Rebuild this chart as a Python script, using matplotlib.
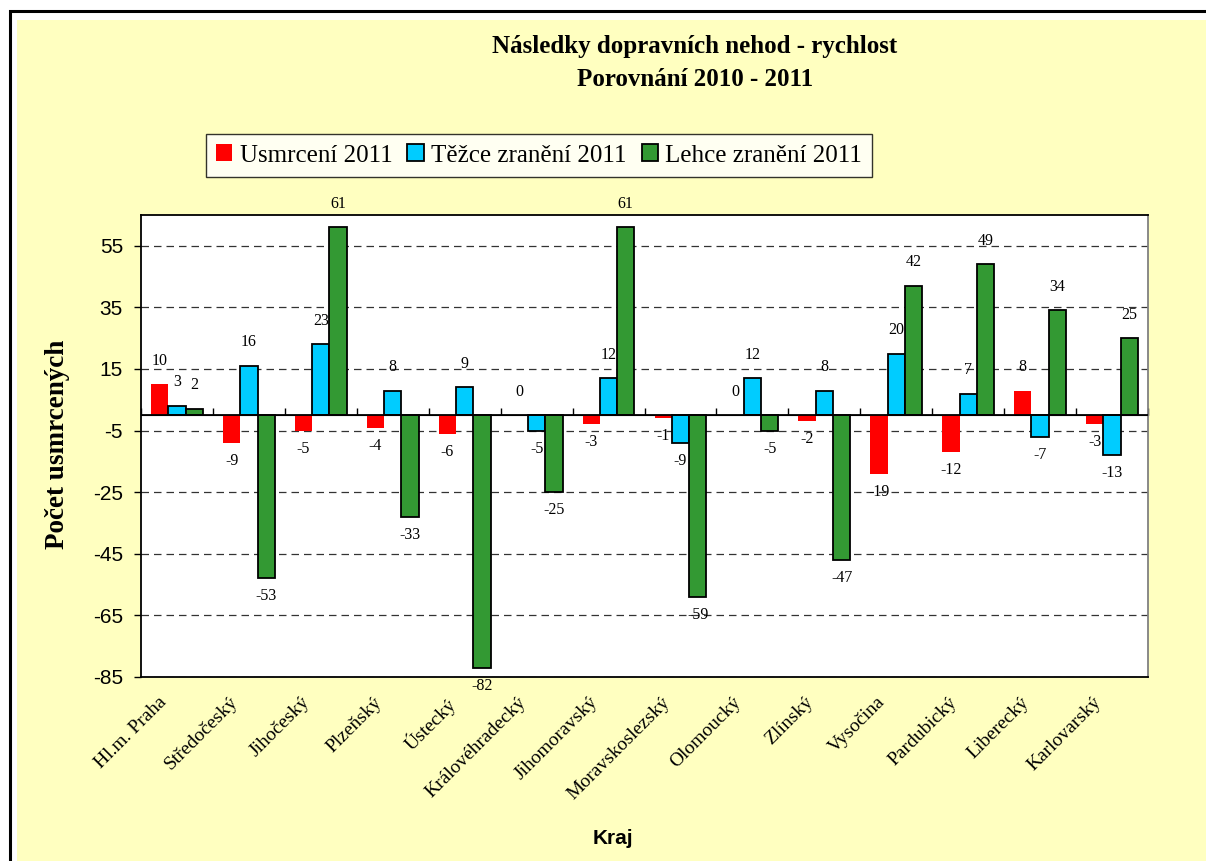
import numpy as np
import matplotlib
matplotlib.use("Agg")
import matplotlib.pyplot as plt
from matplotlib.patches import Rectangle
from matplotlib.transforms import ScaledTranslation

# ---- data ----
categories = ["Hl.m. Praha", "Středočeský", "Jihočeský", "Plzeňský", "Ústecký",
              "Královéhradecký", "Jihomoravský", "Moravskoslezský", "Olomoucký",
              "Zlínský", "Vysočina", "Pardubický", "Liberecký", "Karlovarský"]
usmrceni = [10, -9, -5, -4, -6, 0, -3, -1, 0, -2, -19, -12, 8, -3]
tezce = [3, 16, 23, 8, 9, -5, 12, -9, 12, 8, 20, 7, -7, -13]
lehce = [2, -53, 61, -33, -82, -25, 61, -59, -5, -47, 42, 49, 34, 25]
series_names = ["Usmrcení 2011", "Těžce zranění 2011", "Lehce zranění 2011"]
yticks = [-85, -65, -45, -25, -5, 15, 35, 55]

colors = ["#FF0000", "#00CCFF", "#339933"]
SERIF = "Liberation Serif"
SANS = "Liberation Sans"

W, H = 1206, 861
fig = plt.figure(figsize=(W / 100, H / 100), dpi=100, facecolor="white")

# frame and yellow background
fig.patches.append(Rectangle((9.5 / W, -0.1), 1.2, 1 - 11 / H + 0.1, transform=fig.transFigure,
                             facecolor="white", edgecolor="black", linewidth=2.2, zorder=-10))
fig.patches.append(Rectangle((17 / W, 0), 1, 1 - 20 / H, transform=fig.transFigure,
                             facecolor="#FFFFC0", edgecolor="none", zorder=-9))

ax = fig.add_axes([141 / W, (H - 677) / H, (1148 - 141) / W, (677 - 215) / H])
ax.set_facecolor("white")

x = np.arange(len(categories))
bw = 0.24
series = [usmrceni, tezce, lehce]
offsets = [-bw, 0, bw]
for vals, off, col, name in zip(series, offsets, colors, series_names):
    if col == "#FF0000":
        bars = ax.bar(x + off, vals, bw, color=col, edgecolor="none", label=name, zorder=3)
    else:
        bars = ax.bar(x + off, vals, bw, color=col, edgecolor="black", linewidth=1.3,
                      label=name, zorder=3)
    for b, v in zip(bars, vals):
        cx = b.get_x() + b.get_width() / 2
        if v >= 0:
            ax.annotate(str(v), (cx, v), xytext=(0, 17), textcoords="offset points",
                        ha="center", va="center", fontsize=11.5, family=SERIF, zorder=4)
        else:
            ax.annotate(str(v), (cx, v), xytext=(0, -13), textcoords="offset points",
                        ha="center", va="center", fontsize=11.5, family=SERIF, zorder=4)

ax.set_xlim(-0.5, len(categories) - 0.5)
ax.set_ylim(-85, 65)
ax.set_yticks(yticks)
ax.set_yticklabels([str(t) for t in yticks], family=SANS, fontsize=15)
ax.tick_params(axis="y", direction="out", length=5, width=1, pad=8)
ax.yaxis.grid(True, linestyle=(0, (6, 4)), color="#333333", linewidth=0.9, zorder=1)
ax.set_axisbelow(True)

ax.set_xticks(x)
ax.set_xticklabels(categories, rotation=45, ha="right", va="top", rotation_mode="anchor",
                   family=SERIF, fontsize=14)
ax.tick_params(axis="x", length=0, pad=12)
shift = ScaledTranslation(-14 / 72, 0, fig.dpi_scale_trans)
for lab in ax.get_xticklabels():
    lab.set_transform(lab.get_transform() + shift)

# zero line (category axis) with tick marks at boundaries
ax.axhline(0, color="black", linewidth=1.3, zorder=3.5)
sec = ax.secondary_xaxis(85 / 150)
sec.set_xticks(np.arange(len(categories) + 1) - 0.5)
sec.set_xticklabels([])
sec.tick_params(axis="x", direction="out", length=5, width=1, color="black")
sec.spines["bottom"].set_visible(False)

for s in ["left", "bottom", "top"]:
    ax.spines[s].set_color("black")
    ax.spines[s].set_linewidth(1.3)
ax.spines["right"].set_color("#808080")
ax.spines["right"].set_linewidth(1.3)

# titles and labels
fig.text(695 / W, 1 - 47 / H, "Následky dopravních nehod - rychlost", ha="center", va="center",
         family=SERIF, fontweight="bold", fontsize=18)
fig.text(695 / W, 1 - 79 / H, "Porovnání 2010 - 2011", ha="center", va="center",
         family=SERIF, fontweight="bold", fontsize=18)
fig.text(58 / W, 1 - 444 / H, "Počet usmrcených", rotation=90, ha="center", va="center",
         family=SERIF, fontweight="bold", fontsize=19.5)
fig.text(613 / W, 1 - 838 / H, "Kraj", ha="center", va="center",
         family=SANS, fontweight="bold", fontsize=15)

handles, labels = ax.get_legend_handles_labels()
leg = fig.legend(handles, labels, loc="center", bbox_to_anchor=(539 / W, 1 - 155.5 / H),
                 ncol=3, prop={"family": SERIF, "size": 18}, frameon=True, fancybox=False,
                 shadow=False, edgecolor="black", handlelength=0.65, handleheight=0.65,
                 handletextpad=0.3, columnspacing=0.6, borderpad=0.4)
leg.get_frame().set_linewidth(1.0)

fig.savefig("out.png", dpi=100, facecolor="white")
